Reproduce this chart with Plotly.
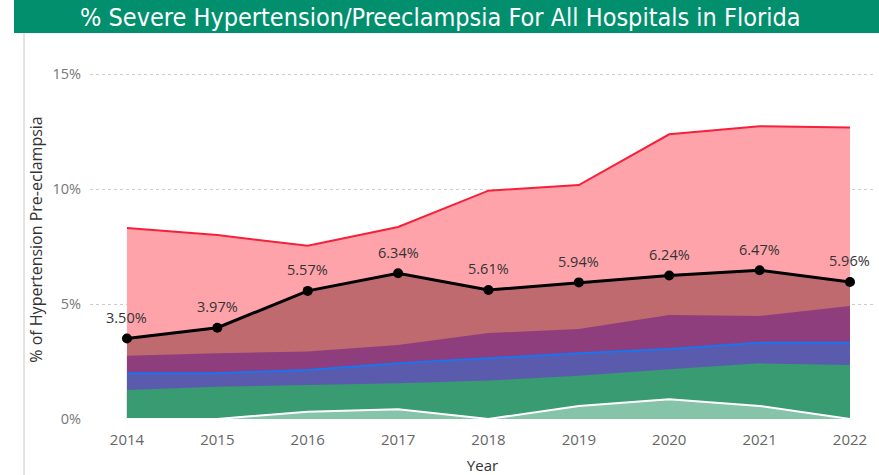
import plotly.graph_objects as go

years = [2014, 2015, 2016, 2017, 2018, 2019, 2020, 2021, 2022]
red_top = [8.31, 8.00, 7.53, 8.35, 9.93, 10.17, 12.38, 12.73, 12.67]
avg = [3.50, 3.97, 5.57, 6.34, 5.61, 5.94, 6.24, 6.47, 5.96]
purple = [2.75, 2.86, 2.93, 3.22, 3.74, 3.91, 4.52, 4.48, 4.91]
blue = [1.99, 1.99, 2.13, 2.42, 2.64, 2.86, 3.04, 3.32, 3.32]
green = [1.26, 1.40, 1.48, 1.55, 1.67, 1.88, 2.16, 2.42, 2.35]
white_low = [0.0, 0.0, 0.32, 0.42, 0.0, 0.57, 0.86, 0.57, 0.0]
avg_labels = [f"{v:.2f}%" for v in avg]
y_ticks = [0, 5, 10, 15]
y_tick_labels = ["0%", "5%", "10%", "15%"]

fig = go.Figure()
fig.add_trace(go.Scatter(x=years, y=red_top, mode="lines", fill="tozeroy",
                         fillcolor="#FFA3AB", line=dict(color="#F5213A", width=2),
                         hoverinfo="skip"))
fig.add_trace(go.Scatter(x=years, y=avg, mode="lines", fill="tozeroy",
                         fillcolor="#BF6A6E", line=dict(width=0, color="#BF6A6E"),
                         hoverinfo="skip"))
fig.add_trace(go.Scatter(x=years, y=purple, mode="lines", fill="tozeroy",
                         fillcolor="#8E3E7C", line=dict(width=0, color="#8E3E7C"),
                         hoverinfo="skip"))
fig.add_trace(go.Scatter(x=years, y=blue, mode="lines", fill="tozeroy",
                         fillcolor="#5B5BAE", line=dict(color="#1A73F0", width=2),
                         hoverinfo="skip"))
fig.add_trace(go.Scatter(x=years, y=green, mode="lines", fill="tozeroy",
                         fillcolor="#389B72", line=dict(width=0, color="#389B72"),
                         hoverinfo="skip"))
fig.add_trace(go.Scatter(x=years, y=white_low, mode="lines", fill="tozeroy",
                         fillcolor="#86C4AA", line=dict(color="#FFFFFF", width=2),
                         hoverinfo="skip"))
fig.add_trace(go.Scatter(x=years, y=avg, mode="lines+markers",
                         line=dict(color="#000000", width=3),
                         marker=dict(color="#000000", size=10),
                         hoverinfo="skip"))

for x, y, t in zip(years, avg, avg_labels):
    fig.add_annotation(x=x, y=y, text=t, showarrow=False, yshift=21,
                       xanchor="center", yanchor="middle",
                       font=dict(family="Open Sans", size=14.5, color="#333333"))

fig.update_layout(
    width=879, height=475,
    margin=dict(l=90, r=4, t=60, b=56),
    paper_bgcolor="white", plot_bgcolor="white",
    showlegend=False,
    font=dict(family="Open Sans", color="#666666"),
    xaxis=dict(range=[2013.591, 2022.277], tickvals=years, ticktext=[str(y) for y in years],
               showgrid=False, zeroline=False, showline=False, automargin=False,
               ticks="", ticklen=0, ticklabelstandoff=10,
               tickfont=dict(size=15, color="#666666"),
               title=dict(text="Year", font=dict(size=15, color="#333333"), standoff=22)),
    yaxis=dict(range=[0, 15.61], tickvals=y_ticks, ticktext=y_tick_labels,
               showgrid=True, gridcolor="#CCCCCC", griddash="dot", gridwidth=1,
               zeroline=False, showline=False, automargin=False,
               ticks="", ticklen=0, ticklabelstandoff=8,
               tickfont=dict(size=14.5, color="#777777"),
               title=dict(text="% of Hypertension Pre-eclampsia",
                          font=dict(size=16, color="#333333"), standoff=5)),
)

# title bar
fig.add_shape(type="rect", xref="paper", yref="paper",
              x0=(14 - 90) / 785, x1=(879 - 90) / 785,
              y0=(419 - 33) / 359, y1=(419 - 0) / 359,
              fillcolor="#018F6E", line=dict(width=0), layer="above")
fig.add_shape(type="line", xref="paper", yref="paper",
              x0=(24 - 90) / 785, x1=(24 - 90) / 785,
              y0=(419 - 475) / 359, y1=(419 - 33) / 359,
              line=dict(color="#C8C8C8", width=1))
fig.add_annotation(text="% Severe Hypertension/Preeclampsia For All Hospitals in Florida",
                   xref="paper", yref="paper",
                   x=(440 - 90) / 785, y=(419 - 17) / 359,
                   xanchor="center", yanchor="middle", showarrow=False,
                   font=dict(family="DejaVu Sans Condensed", size=25, color="white"))

fig.write_html("out.html", config={"displayModeBar": False},
               post_script="document.body.style.margin='0';document.body.style.overflow='hidden';")
